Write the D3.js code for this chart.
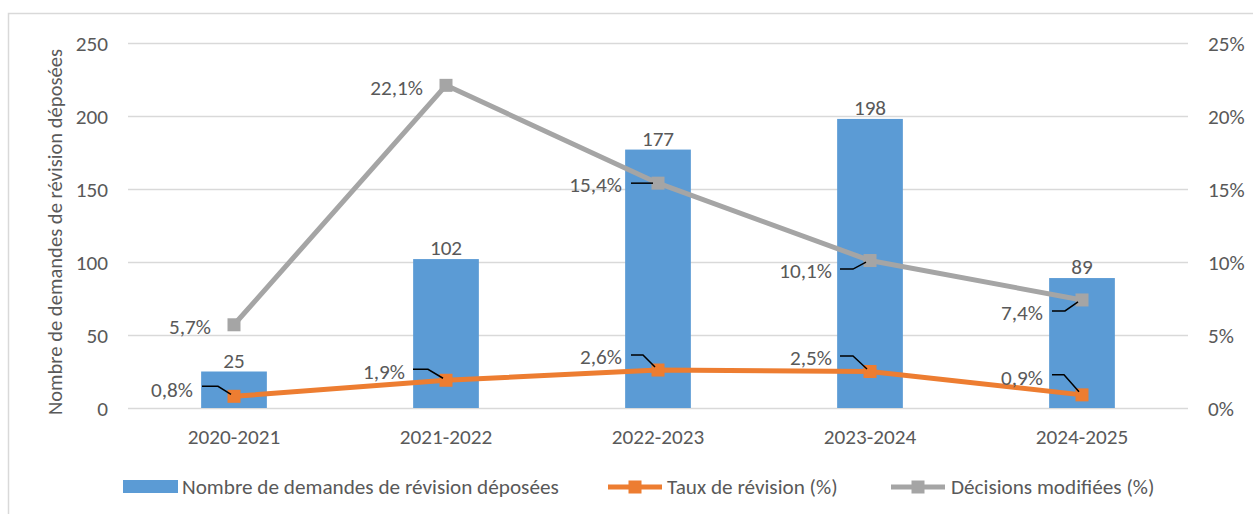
<!DOCTYPE html>
<html><head><meta charset="utf-8">
<script src="https://cdn.jsdelivr.net/npm/d3@7"></script>
<style>
html,body{margin:0;padding:0;background:#fff;}
svg text{font-family:Carlito,Calibri,"Liberation Sans",Arial,sans-serif;fill:#595959;}
</style></head>
<body>
<svg id="chart" width="1253" height="514"></svg>
<script>
// ---- data ----
const categories = ["2020-2021","2021-2022","2022-2023","2023-2024","2024-2025"];
const demandes = [25,102,177,198,89];
const tauxRevision = [0.8,1.9,2.6,2.5,0.9];
const decisionsModifiees = [5.7,22.1,15.4,10.1,7.4];
const leftTicks = [0,50,100,150,200,250];
const rightTicks = [0,5,10,15,20,25];
const seriesNames = ["Nombre de demandes de révision déposées","Taux de révision (%)","Décisions modifiées (%)"];

// ---- label layout (offsets from marker, px) ----
const decLabelLayout = [
  {dx:-23, dy:2, leader:null},
  {dx:-23, dy:2, leader:null},
  {dx:-36, dy:1, leader:[[-27,0],[-5,0]]},
  {dx:-38, dy:10, leader:[[-30,8.5],[-17,8.5],[-4,1.5]]},
  {dx:-39, dy:13, leader:[[-30,11],[-17,11],[-4,2]]}
];
const tauxLabelLayout = [
  {dx:-41, dy:-7, leader:[[-32,-10],[-16,-10],[-3,-2]]},
  {dx:-41, dy:-9, leader:[[-33,-11],[-18,-11],[-3,-2]]},
  {dx:-36, dy:-13, leader:[[-27,-15],[-15,-15],[-3,-3]]},
  {dx:-38, dy:-13.5, leader:[[-30,-15.5],[-17,-15.5],[-3,-2.5]]},
  {dx:-39, dy:-17, leader:[[-30,-20],[-18,-20],[-3,-3]]}
];

const colors = {bar:"#5B9BD5", taux:"#ED7D31", dec:"#A5A5A5", grid:"#D9D9D9", text:"#595959"};
const FS = 21.2;

const svg = d3.select("#chart");
// frame
svg.append("path").attr("d","M8.5,514 V13.5 H1253").attr("fill","none").attr("stroke","#D9D9D9").attr("stroke-width",1.5);

const plot = {left:128, right:1188, top:43, bottom:408};
const x = d3.scaleBand().domain(categories).range([plot.left, plot.right]).paddingInner(0.69).paddingOuter(0.345);
const xc = d => x(d) + x.bandwidth()/2;
const yL = d3.scaleLinear().domain([0,250]).range([plot.bottom, plot.top]);
const yR = d3.scaleLinear().domain([0,25]).range([plot.bottom, plot.top]);

// gridlines
svg.append("g").selectAll("line").data(leftTicks).join("line")
  .attr("x1",plot.left).attr("x2",plot.right)
  .attr("y1",d=>Math.round(yL(d))+0.5).attr("y2",d=>Math.round(yL(d))+0.5)
  .attr("stroke",colors.grid).attr("stroke-width",1.5);

// left axis
const axL = svg.append("g").attr("transform",`translate(${plot.left},0)`)
  .call(d3.axisLeft(yL).tickValues(leftTicks).tickSize(0).tickPadding(20));
axL.select(".domain").remove();
axL.selectAll("text").attr("font-size",FS).attr("fill",colors.text).attr("dy","0.35em");

// right axis
const axR = svg.append("g").attr("transform",`translate(${plot.right},0)`)
  .call(d3.axisRight(yR).tickValues(rightTicks).tickSize(0).tickPadding(20).tickFormat(d=>d+"%"));
axR.select(".domain").remove();
axR.selectAll("text").attr("font-size",FS).attr("fill",colors.text).attr("dy","0.35em");

// bottom axis
const axB = svg.append("g").attr("transform",`translate(0,${plot.bottom})`)
  .call(d3.axisBottom(x).tickSize(0).tickPadding(21));
axB.select(".domain").remove();
axB.selectAll("text").attr("font-size",FS).attr("fill",colors.text);

// axis title
svg.append("text").attr("transform","translate(62,232) rotate(-90)")
  .attr("text-anchor","middle").attr("font-size",20.6).text(seriesNames[0]);

// bars
svg.append("g").selectAll("rect").data(demandes).join("rect")
  .attr("x",(d,i)=>x(categories[i])).attr("width",x.bandwidth())
  .attr("y",d=>yL(d)).attr("height",d=>yL(0)-yL(d)).attr("fill",colors.bar);
svg.append("g").selectAll("text").data(demandes).join("text")
  .attr("x",(d,i)=>xc(categories[i])).attr("y",d=>yL(d)-4)
  .attr("text-anchor","middle").attr("font-size",FS).text(d=>d);

function drawLine(vals,color,layout){
  const pts = vals.map((v,i)=>[xc(categories[i]), yR(v)]);
  svg.append("path").attr("d",d3.line()(pts)).attr("fill","none")
    .attr("stroke",color).attr("stroke-width",5).attr("stroke-linejoin","round");
  svg.append("g").selectAll("rect").data(pts).join("rect")
    .attr("x",p=>p[0]-6.5).attr("y",p=>p[1]-6.5).attr("width",13).attr("height",13).attr("fill",color);
  const g = svg.append("g");
  vals.forEach((v,i)=>{
    const [px,py] = pts[i], L = layout[i];
    if(L.leader){
      g.append("path").attr("d",d3.line()(L.leader.map(q=>[px+q[0],py+q[1]])))
        .attr("fill","none").attr("stroke","#000").attr("stroke-width",1.5);
    }
    g.append("text").attr("x",px+L.dx).attr("y",py+L.dy).attr("dy","0.35em")
      .attr("text-anchor","end").attr("font-size",FS)
      .text(d3.format(".1f")(v).replace(".",",")+"%");
  });
}
drawLine(decisionsModifiees,colors.dec,decLabelLayout);
drawLine(tauxRevision,colors.taux,tauxLabelLayout);

// legend
const lg = svg.append("g");
lg.append("rect").attr("x",123).attr("y",480).attr("width",55).attr("height",13).attr("fill",colors.bar);
lg.append("text").attr("x",182).attr("y",487).attr("dy","0.35em").attr("font-size",FS).text(seriesNames[0]);
[[608,colors.taux,667,seriesNames[1]],[891,colors.dec,951,seriesNames[2]]].forEach(([lx,c,tx,t])=>{
  lg.append("line").attr("x1",lx).attr("x2",lx+54).attr("y1",487).attr("y2",487).attr("stroke",c).attr("stroke-width",5);
  lg.append("rect").attr("x",lx+27-6.5).attr("y",480.5).attr("width",13).attr("height",13).attr("fill",c);
  lg.append("text").attr("x",tx).attr("y",487).attr("dy","0.35em").attr("font-size",FS).text(t);
});
</script>
</body></html>
